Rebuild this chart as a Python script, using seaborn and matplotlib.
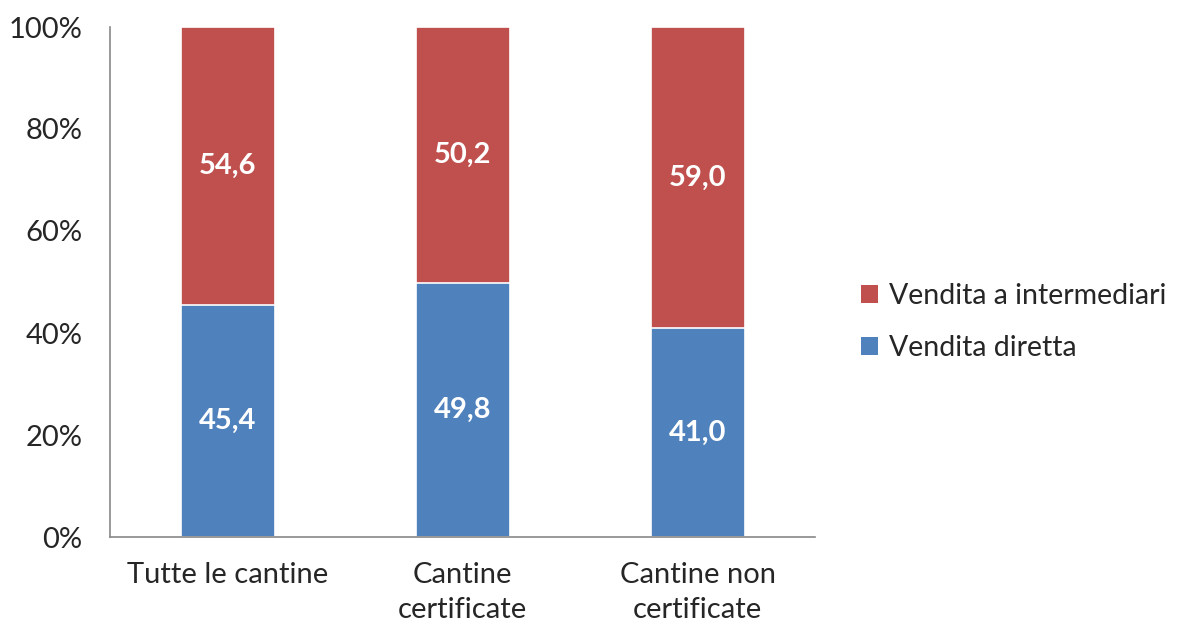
import matplotlib
matplotlib.use("Agg")
import matplotlib.pyplot as plt
import seaborn as sns
import pandas as pd
import numpy as np
from matplotlib.patches import Patch

categories = ["Tutte le cantine", "Cantine\ncertificate", "Cantine non\ncertificate"]
vendita_diretta = [45.4, 49.8, 41.0]
vendita_intermediari = [54.6, 50.2, 59.0]
series_names = ["Vendita diretta", "Vendita a intermediari"]
y_ticks = [0, 20, 40, 60, 80, 100]

sns.set_style("white")
plt.rcParams['font.family'] = ['Lato', 'DejaVu Sans']

blue = "#4F81BD"
red = "#C0504D"
FS = 21

df = pd.DataFrame({
    "cat": categories,
    "diretta": vendita_diretta,
    "inter": vendita_intermediari,
})
df["total"] = df["diretta"] + df["inter"]

fig = plt.figure(figsize=(11.78, 6.27), dpi=100)
ax = fig.add_axes([110/1178, 1 - 537/627, (815-110)/1178, (537-27)/627])

sns.barplot(data=df, x="cat", y="total", color=red, width=0.4, ax=ax,
            edgecolor="white", linewidth=1.2, saturation=1, label=series_names[1])
sns.barplot(data=df, x="cat", y="diretta", color=blue, width=0.4, ax=ax,
            edgecolor="white", linewidth=1.2, saturation=1, label=series_names[0])

for i in range(len(categories)):
    d = vendita_diretta[i]
    r = vendita_intermediari[i]
    ax.text(i, d / 2, f"{d:.1f}".replace(".", ","), ha="center", va="center",
            color="white", fontsize=FS, fontweight="bold")
    ax.text(i, d + r / 2, f"{r:.1f}".replace(".", ","), ha="center", va="center",
            color="white", fontsize=FS, fontweight="bold")

ax.set_xlim(-0.5, len(categories) - 0.5)
ax.set_ylim(0, 100)
ax.set_yticks(y_ticks)
ax.set_yticklabels([f"{t}%" for t in y_ticks], fontsize=FS)
ax.set_xticks(range(len(categories)))
ax.set_xticklabels(categories, fontsize=FS, linespacing=1.45)
ax.set_xticks(np.arange(-0.5, len(categories)), minor=True)
ax.tick_params(axis="x", which="major", length=0, pad=18)
ax.tick_params(axis="x", which="minor", length=8, color="#888888", width=1.2, direction="out")
ax.tick_params(axis="y", length=6, color="#888888", width=1.2, direction="out", pad=14)
ax.set_xlabel("")
ax.set_ylabel("")

for s in ["top", "right"]:
    ax.spines[s].set_visible(False)
for s in ["left", "bottom"]:
    ax.spines[s].set_color("#888888")
    ax.spines[s].set_linewidth(1.2)

leg_handles = [Patch(facecolor=red, edgecolor="none"), Patch(facecolor=blue, edgecolor="none")]
ax.legend(leg_handles, [series_names[1], series_names[0]], loc="center left",
          bbox_to_anchor=(838/1178, 1 - 322/627), bbox_transform=fig.transFigure,
          frameon=False, fontsize=20.5, handlelength=0.6, handleheight=0.6,
          handletextpad=0.4, labelspacing=0.9, borderpad=0.3)

fig.savefig("out.png", dpi=100)
